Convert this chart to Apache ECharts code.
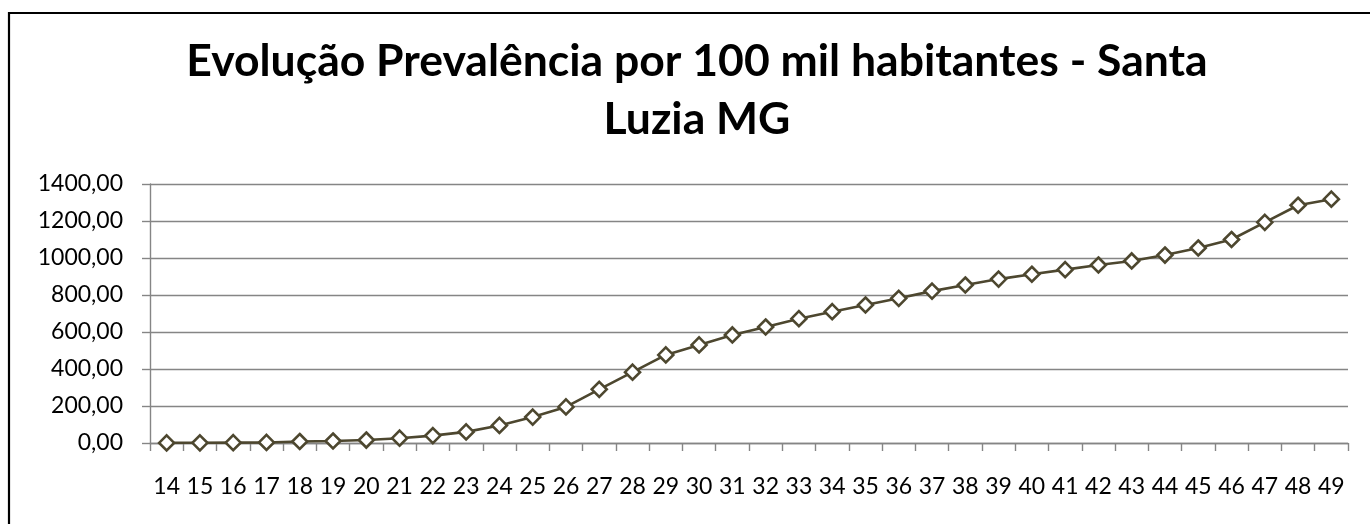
<!DOCTYPE html>
<html>
<head>
<meta charset="utf-8">
<script src="https://cdn.jsdelivr.net/npm/echarts@6/dist/echarts.min.js"></script>
<style>
  html, body { margin: 0; padding: 0; background: #fff; }
  #chart { width: 1370px; height: 524px; }
</style>
</head>
<body>
<div id="chart"></div>
<script>
const titleText = 'Evolução Prevalência por 100 mil habitantes - Santa\nLuzia MG';
const categories = ['14','15','16','17','18','19','20','21','22','23','24','25','26','27','28','29','30','31','32','33','34','35','36','37','38','39','40','41','42','43','44','45','46','47','48','49'];
const prevalence = [0.5, 1, 2, 3, 8, 11, 16, 26, 40, 60, 95, 140, 195, 290, 383, 476, 530, 584, 627, 672, 710, 746, 782, 821, 854, 886, 912, 937, 962, 984, 1016, 1054, 1100, 1193, 1285, 1318];
const yMin = 0, yMax = 1400, yStep = 200;

const chart = echarts.init(document.getElementById('chart'), null, { renderer: 'canvas' });
const lineColor = '#4d472f';
const gridColor = '#858585';
chart.setOption({
  animation: false,
  backgroundColor: '#ffffff',
  graphic: [{
    type: 'rect',
    shape: { x: 9, y: 13, width: 1400, height: 600 },
    style: { fill: 'none', stroke: '#000', lineWidth: 2.2 },
    silent: true, z: 100
  }],
  title: {
    text: titleText,
    left: 692,
    top: 28,
    textAlign: 'center',
    textStyle: {
      fontFamily: 'Lato',
      fontWeight: 'bold',
      fontSize: 44.5,
      lineHeight: 58,
      color: '#000'
    }
  },
  grid: { left: 150, right: 22, top: 184, bottom: 81, containLabel: false },
  xAxis: {
    type: 'category',
    data: categories,
    boundaryGap: true,
    axisLine: { show: true, lineStyle: { color: gridColor, width: 1.4 } },
    axisTick: { show: true, alignWithLabel: false, length: 8, lineStyle: { color: gridColor, width: 1.4 } },
    axisLabel: { color: '#000', fontFamily: 'Lato', fontSize: 23, margin: 32, interval: 0 },
    splitLine: { show: false }
  },
  yAxis: {
    type: 'value',
    min: yMin, max: yMax, interval: yStep,
    axisLine: { show: true, lineStyle: { color: gridColor, width: 1.4 } },
    axisTick: { show: true, length: 8, lineStyle: { color: gridColor, width: 1.4 } },
    axisLabel: {
      color: '#000', fontFamily: 'Lato', fontSize: 23, margin: 27,
      formatter: v => v.toFixed(2).replace('.', ',')
    },
    splitLine: { show: true, lineStyle: { color: gridColor, width: 1.4 } }
  },
  series: [{
    type: 'line',
    data: prevalence,
    symbol: 'diamond',
    symbolSize: 15,
    showAllSymbol: true,
    lineStyle: { color: lineColor, width: 2.6 },
    itemStyle: { color: '#ffffff', borderColor: lineColor, borderWidth: 2.6 }
  }]
});
</script>
</body>
</html>
